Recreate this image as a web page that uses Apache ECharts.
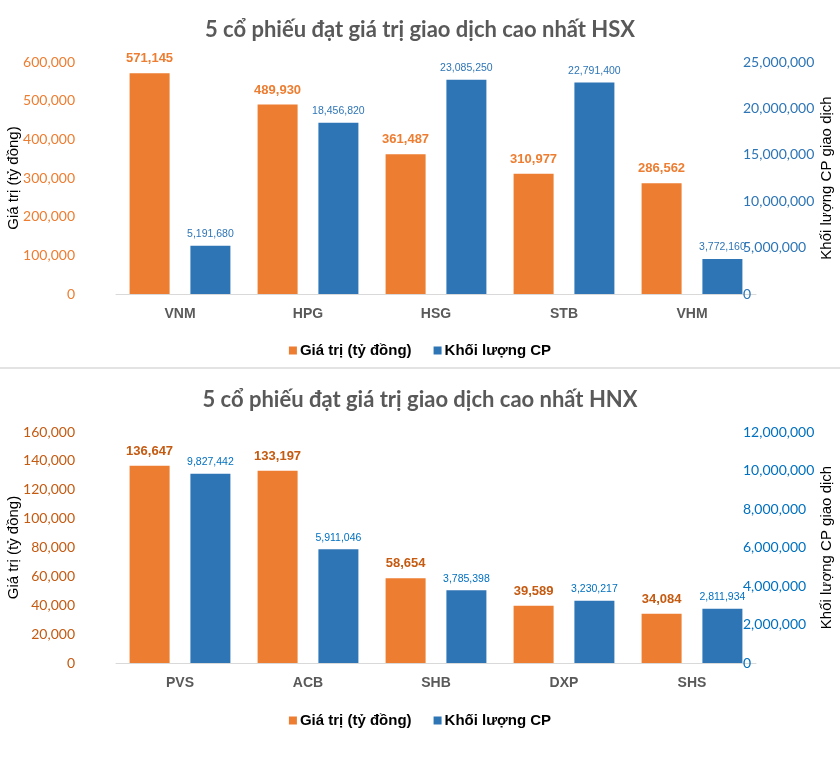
<!DOCTYPE html>
<html>
<head>
<meta charset="utf-8">
<script src="https://cdn.jsdelivr.net/npm/echarts@6/dist/echarts.min.js"></script>
<style>
  html, body { margin: 0; padding: 0; background: #fff; }
  #top { position: absolute; left: 0; top: 0; width: 840px; height: 368px; }
  #sep { position: absolute; left: 0; top: 367px; width: 840px; height: 2px; background: #E3E3E3; }
  #bottom { position: absolute; left: 0; top: 370px; width: 840px; height: 393px; }
</style>
</head>
<body>
<div id="top"></div>
<div id="sep"></div>
<div id="bottom"></div>
<script>
// ---- Data ----
const hsxTitle = '5 cổ phiếu đạt giá trị giao dịch cao nhất HSX';
const hsxCategories = ['VNM', 'HPG', 'HSG', 'STB', 'VHM'];
const hsxValue = [571145, 489930, 361487, 310977, 286562];
const hsxVolume = [5191680, 18456820, 23085250, 22791400, 3772160];

const hnxTitle = '5 cổ phiếu đạt giá trị giao dịch cao nhất HNX';
const hnxCategories = ['PVS', 'ACB', 'SHB', 'DXP', 'SHS'];
const hnxValue = [136647, 133197, 58654, 39589, 34084];
const hnxVolume = [9827442, 5911046, 3785398, 3230217, 2811934];

const seriesNames = ['Giá trị (tỷ đồng)', 'Khối lượng CP'];
const leftAxisName = 'Giá trị (tỷ đồng)';
const rightAxisName = 'Khối lượng CP giao dịch';

// ---- Helpers ----
const fmt = v => Number(v).toLocaleString('en-US');
const ORANGE = '#ED7D31';
const BLUE = '#2E75B6';
const CAL = 'Lato, "Open Sans", sans-serif';
const ARIAL = '"Liberation Sans", Arial, sans-serif';

function buildOption(cfg) {
  return {
    animation: false,
    textStyle: { fontFamily: ARIAL },
    title: {
      text: cfg.title,
      left: 'center',
      top: 14,
      textStyle: { fontFamily: CAL, fontWeight: 'bold', fontSize: 22, color: '#595959' }
    },
    legend: {
      data: seriesNames,
      left: 'center',
      top: 338,
      itemWidth: 8,
      itemHeight: 8,
      itemGap: 22,
      icon: 'rect',
      textStyle: { fontFamily: ARIAL, fontWeight: 'bold', fontSize: 15, color: '#000', padding: [0, 0, 0, -2] }
    },
    grid: { left: 116, right: 84, top: 62, bottom: cfg.gridBottom, containLabel: false, outerBoundsMode: 'none' },
    xAxis: {
      type: 'category',
      data: cfg.categories,
      axisLine: { show: true, lineStyle: { color: '#D9D9D9', width: 1 } },
      axisTick: { show: false },
      axisLabel: { fontFamily: ARIAL, fontWeight: 'bold', fontSize: 14, color: '#595959', margin: 13 }
    },
    yAxis: [
      {
        type: 'value',
        min: 0, max: cfg.leftMax, interval: cfg.leftInterval,
        name: leftAxisName,
        nameLocation: 'middle',
        nameGap: 95,
        nameRotate: 90,
        nameMoveOverlap: false,
        nameTextStyle: { fontFamily: ARIAL, fontSize: 15, color: '#000' },
        splitLine: { show: false },
        axisLine: { show: false },
        axisTick: { show: false },
        axisLabel: { formatter: fmt, fontFamily: CAL, fontSize: 14, color: cfg.leftColor, margin: 41 }
      },
      {
        type: 'value',
        position: 'right',
        min: 0, max: cfg.rightMax, interval: cfg.rightInterval,
        name: rightAxisName,
        nameLocation: 'middle',
        nameGap: 63,
        nameRotate: 90,
        nameMoveOverlap: false,
        nameTextStyle: { fontFamily: ARIAL, fontSize: 15, color: '#000' },
        splitLine: { show: false },
        axisLine: { show: false },
        axisTick: { show: false },
        axisLabel: { formatter: fmt, fontFamily: CAL, fontSize: 14, color: cfg.rightColor, margin: -13 }
      }
    ],
    series: [
      {
        name: seriesNames[0],
        type: 'bar',
        yAxisIndex: 0,
        data: cfg.value,
        barWidth: 40,
        barGap: '52%',
        itemStyle: { color: ORANGE },
        label: {
          show: true, position: 'top', distance: 8,
          formatter: p => fmt(p.value),
          fontFamily: ARIAL, fontWeight: 'bold', fontSize: 13, color: cfg.valueLabelColor
        }
      },
      {
        name: seriesNames[1],
        type: 'bar',
        yAxisIndex: 1,
        data: cfg.volume,
        barWidth: 40,
        itemStyle: { color: BLUE },
        label: {
          show: true, position: 'top', distance: 6,
          formatter: p => fmt(p.value),
          fontFamily: ARIAL, fontSize: 10.5, color: cfg.volumeLabelColor
        }
      }
    ]
  };
}

const topChart = echarts.init(document.getElementById('top'), null, { renderer: 'canvas' });
topChart.setOption(buildOption({
  title: hsxTitle,
  categories: hsxCategories,
  value: hsxValue,
  volume: hsxVolume,
  leftMax: 600000, leftInterval: 100000,
  rightMax: 25000000, rightInterval: 5000000,
  gridBottom: 74,
  leftColor: '#ED7D31', rightColor: '#2E75B6',
  valueLabelColor: '#ED7D31', volumeLabelColor: '#2E75B6'
}));

const bottomChart = echarts.init(document.getElementById('bottom'), null, { renderer: 'canvas' });
bottomChart.setOption(buildOption({
  title: hnxTitle,
  categories: hnxCategories,
  value: hnxValue,
  volume: hnxVolume,
  leftMax: 160000, leftInterval: 20000,
  rightMax: 12000000, rightInterval: 2000000,
  gridBottom: 100,
  leftColor: '#C55A11', rightColor: '#0070C0',
  valueLabelColor: '#C55A11', volumeLabelColor: '#0070C0'
}));
</script>
</body>
</html>
